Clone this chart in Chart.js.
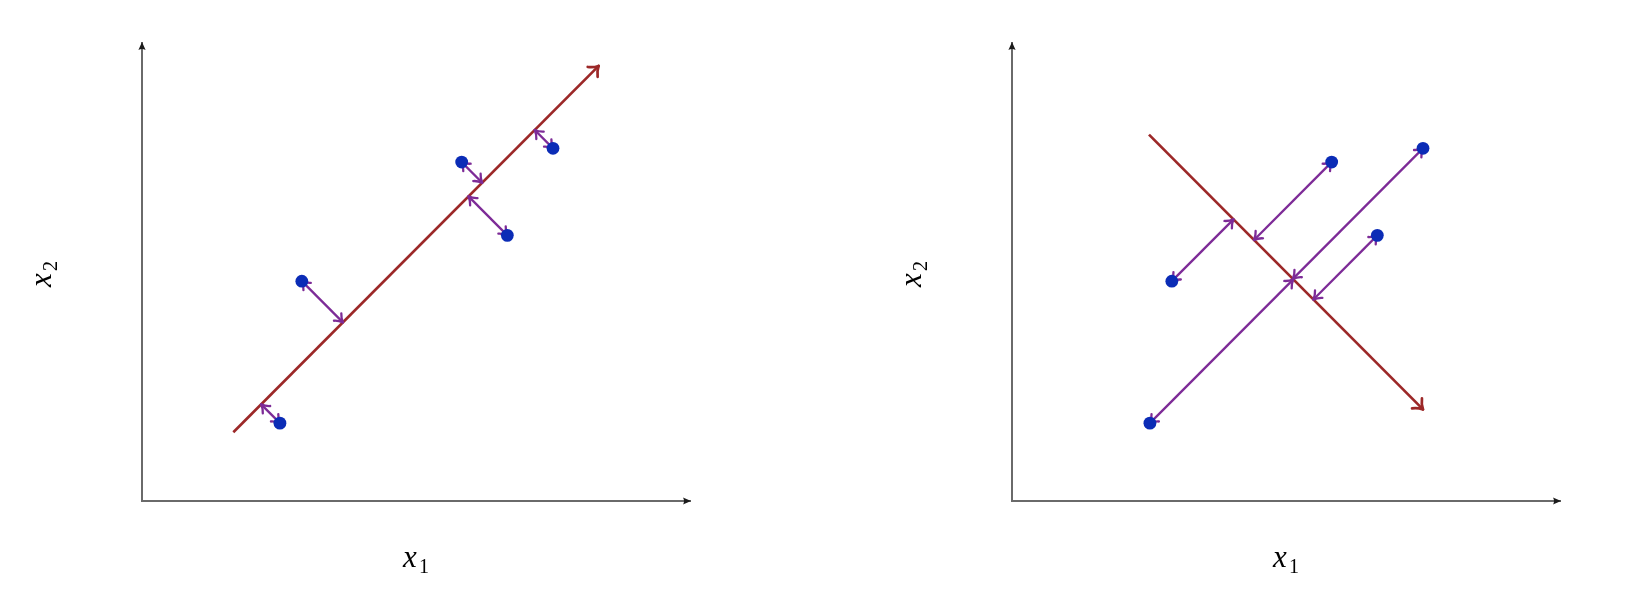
<!DOCTYPE html>
<html><head><meta charset="utf-8">
<script src="https://cdn.jsdelivr.net/npm/chart.js@4.4.1/dist/chart.umd.min.js"></script>
<style>
html,body{margin:0;padding:0;background:#fff;overflow:hidden;}
#wrap{width:1632px;height:608px;display:flex;}
.box{width:816px;height:608px;position:relative;}
canvas{display:block;}
</style></head><body>
<div id="wrap"><div class="box"><canvas id="c1" width="816" height="608"></canvas></div><div class="box"><canvas id="c2" width="816" height="608"></canvas></div></div>
<script>
// ---- data ----
const pointX = [3.02, 3.50, 7.00, 8.00, 9.00];
const pointY = [1.70, 4.80, 7.40, 5.80, 7.70];
// left panel: direction line and foot of each arrow on it
const leftLineX = [2.0, 10.0];
const leftLineY = [1.5, 9.5];
const leftFootX = [2.61, 4.40, 7.45, 7.15, 8.60];
const leftFootY = [2.11, 3.90, 6.95, 6.65, 8.10];
// right panel: direction line and foot of each arrow on it
const rightLineX = [3.0, 9.0];
const rightLineY = [8.0, 2.0];
const rightFootX = [6.16, 4.85, 5.30, 6.60, 6.15];
const rightFootY = [4.84, 6.15, 5.70, 4.40, 4.85];
// axis ranges and labels
const xRange = [0, 12];
const yRange = [0, 10];
const xLabelParts = ['x', '1'];
const yLabelParts = ['x', '2'];

const RED = '#9c2828', PURPLE = '#7d2b97', BLUE = '#0b2cb6', AXIS = '#6a6a6a';

function drawTo(ctx, tx, ty, fx, fy, L, W, color, lw) {
  const dx = tx - fx, dy = ty - fy, len = Math.hypot(dx, dy) || 1;
  const ux = dx / len, uy = dy / len, nx = -uy, ny = ux;
  ctx.save();
  ctx.strokeStyle = color; ctx.lineWidth = lw; ctx.lineCap = 'round'; ctx.lineJoin = 'round';
  for (const s of [1, -1]) {
    const ex = tx - ux * L + nx * W * s, ey = ty - uy * L + ny * W * s;
    const cx = tx - ux * L * 0.6 + nx * W * 0.35 * s, cy = ty - uy * L * 0.6 + ny * W * 0.35 * s;
    ctx.beginPath(); ctx.moveTo(ex, ey); ctx.quadraticCurveTo(cx, cy, tx, ty); ctx.stroke();
  }
  ctx.restore();
}
function drawLatex(ctx, tx, ty, ux, uy) {
  const L = 8, W = 3.6, nx = -uy, ny = ux;
  ctx.save(); ctx.fillStyle = '#1b1b1b';
  ctx.beginPath();
  ctx.moveTo(tx, ty);
  ctx.lineTo(tx - ux * L + nx * W, ty - uy * L + ny * W);
  ctx.quadraticCurveTo(tx - ux * L * 0.75, ty - uy * L * 0.75, tx - ux * L - nx * W, ty - uy * L - ny * W);
  ctx.closePath(); ctx.fill();
  ctx.restore();
}
function drawMath(ctx, parts, cx, baseY) {
  const f1 = 'italic 31px "Liberation Serif", "DejaVu Serif", serif';
  const f2 = '20px "Liberation Serif", "DejaVu Serif", serif';
  ctx.font = f1; const w1 = ctx.measureText(parts[0]).width;
  ctx.font = f2; const w2 = ctx.measureText(parts[1]).width;
  const gap = 2, total = w1 + gap + w2;
  let x = cx - total / 2;
  ctx.fillStyle = '#000'; ctx.textBaseline = 'alphabetic'; ctx.textAlign = 'left';
  ctx.font = f1; ctx.fillText(parts[0], x, baseY);
  ctx.font = f2; ctx.fillText(parts[1], x + w1 + gap, baseY + 6);
}

const arrowPlugin = {
  id: 'arrows',
  afterDatasetDraw(chart, args) {
    const ds = chart.data.datasets[args.index];
    if (!ds.arrows) return;
    const pts = args.meta.data;
    if (pts.length < 2) return;
    const a = pts[0], b = pts[pts.length - 1];
    const ctx = chart.ctx;
    drawTo(ctx, b.x, b.y, a.x, a.y, ds.arrowL, ds.arrowW, ds.borderColor, ds.borderWidth);
    if (ds.arrows === 'both') drawTo(ctx, a.x, a.y, b.x, b.y, ds.arrowL, ds.arrowW, ds.borderColor, ds.borderWidth);
  },
  afterDraw(chart) {
    const ctx = chart.ctx, ca = chart.chartArea;
    const xs = chart.scales.x, ys = chart.scales.y;
    const ox = xs.getPixelForValue(xRange[0]), oy = ys.getPixelForValue(yRange[0]);
    drawLatex(ctx, xs.getPixelForValue(xRange[1]) + 1, oy, 1, 0);
    drawLatex(ctx, ox, ys.getPixelForValue(yRange[1]) - 1, 0, -1);
    drawMath(ctx, xLabelParts, (ca.left + ca.right) / 2, ca.bottom + 66);
    ctx.save();
    ctx.translate(ca.left - 91, (ca.top + ca.bottom) / 2 + 2);
    ctx.rotate(-Math.PI / 2);
    drawMath(ctx, yLabelParts, 0, 0);
    ctx.restore();
  }
};

function buildDatasets(lineX, lineY, footX, footY) {
  const sets = [];
  sets.push({
    type: 'scatter', data: pointX.map((x, i) => ({x, y: pointY[i]})),
    pointRadius: 6.4, pointBackgroundColor: BLUE, pointBorderWidth: 0, showLine: false
  });
  pointX.forEach((x, i) => {
    sets.push({
      type: 'scatter', showLine: true,
      data: [{x, y: pointY[i]}, {x: footX[i], y: footY[i]}],
      borderColor: PURPLE, borderWidth: 2.3, pointRadius: 0, arrows: 'both', arrowL: 7.5, arrowW: 5.2
    });
  });
  sets.push({
    type: 'scatter', showLine: true,
    data: lineX.map((x, i) => ({x, y: lineY[i]})),
    borderColor: RED, borderWidth: 2.7, pointRadius: 0, arrows: 'end', arrowL: 8.5, arrowW: 7
  });
  return sets;
}

function makeChart(id, datasets, pad) {
  const axisCommon = {
    type: 'linear', display: true, offset: false,
    grid: {display: false, drawTicks: false},
    ticks: {display: false},
    border: {display: true, color: AXIS, width: 2},
    title: {display: false}
  };
  return new Chart(document.getElementById(id), {
    type: 'scatter',
    data: {datasets},
    options: {
      responsive: false, animation: false, devicePixelRatio: 1, events: [],
      layout: {padding: pad},
      plugins: {legend: {display: false}, tooltip: {enabled: false}},
      scales: {
        x: Object.assign({}, axisCommon, {position: 'bottom', min: xRange[0], max: xRange[1]}),
        y: Object.assign({}, axisCommon, {position: 'left', min: yRange[0], max: yRange[1]})
      }
    },
    plugins: [arrowPlugin]
  });
}

makeChart('c1', buildDatasets(leftLineX, leftLineY, leftFootX, leftFootY), {left: 142, right: 126, top: 43, bottom: 107});
makeChart('c2', buildDatasets(rightLineX, rightLineY, rightFootX, rightFootY), {left: 196, right: 72, top: 43, bottom: 107});
</script>
</body></html>
